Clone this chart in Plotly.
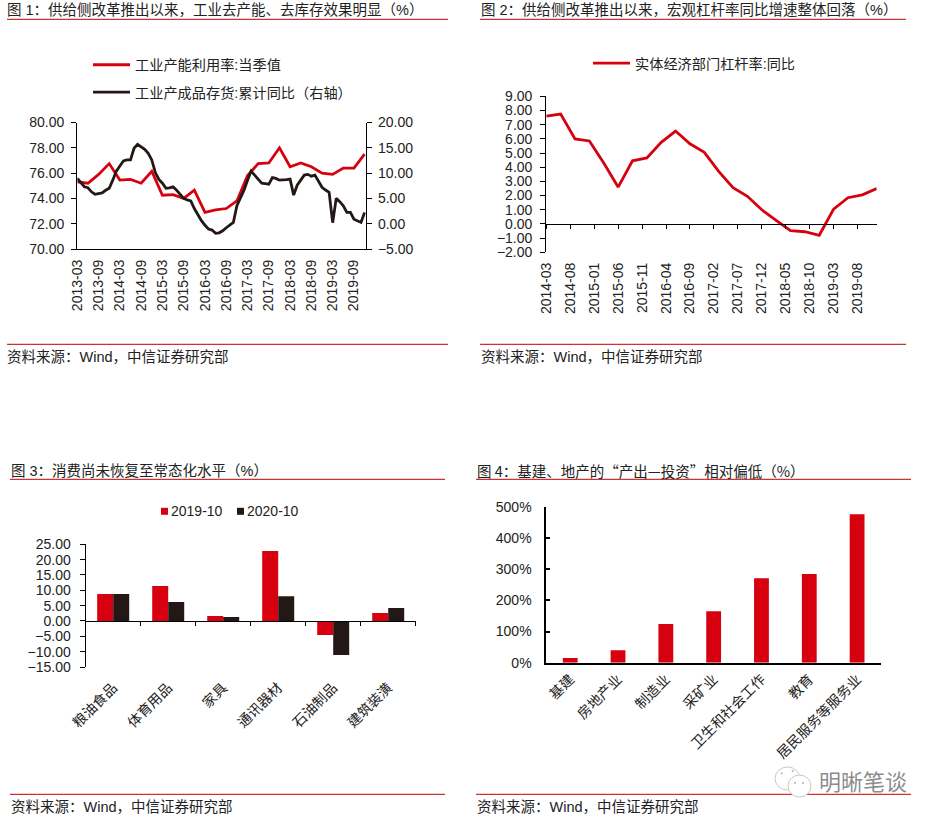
import plotly.graph_objects as go

W, H = 940, 824
RED = '#D7000F'
BLACK = '#231815'
RULE = '#C00000'
FONT = 'Liberation Sans, Noto Sans CJK SC, sans-serif'
FONT_CJK = 'Noto Sans CJK SC, sans-serif'

# chart 1
months1 = ['%d-%02d' % (y, m) for y in range(2013, 2020) for m in range(1, 13)][2:]
quarters1 = [m for m in months1 if int(m[-2:]) % 3 == 0]
ticks1 = ['2013-03', '2013-09', '2014-03', '2014-09', '2015-03', '2015-09', '2016-03', '2016-09',
          '2017-03', '2017-09', '2018-03', '2018-09', '2019-03', '2019-09']
capacity = [75.3, 75.2, 75.9, 76.75, 75.45, 75.5, 75.2, 76.15,
            74.25, 74.3, 74.0, 74.65, 72.9, 73.1, 73.2, 73.8,
            75.8, 76.75, 76.8, 78.0, 76.5, 76.8, 76.5, 76.0,
            75.9, 76.4, 76.4, 77.5]
inventory = [8.95, 8.0, 7.3, 7.1, 6.3, 5.8, 5.9, 6.1, 6.6, 7.0, 8.6, 10.4,
             11.4, 12.4, 12.6, 12.6, 14.9, 15.7, 15.2, 14.7, 13.9, 12.6, 10.1, 8.75,
             8.0, 7.0, 7.1, 7.3, 6.6, 5.9, 5.0, 4.7, 4.5, 3.0, 1.7, 0.6,
             -0.3, -1.05, -1.25, -1.9, -1.8, -1.4, -0.8, -0.25, 0.25, 3.55, 5.0, 6.6,
             8.6, 10.4, 9.6, 8.75, 8.0, 7.9, 7.8, 9.1, 8.95, 8.6, 8.6, 8.7,
             8.8, 5.65, 7.6, 8.6, 9.6, 9.75, 9.4, 9.6, 8.5, 7.2, 6.65, 6.2,
             0.2, 5.0, 4.35, 3.55, 2.25, 2.25, 0.9, 0.5, 0.25, 2.2]

# chart 2
months2 = ['%d-%02d' % (y, m) for y in range(2014, 2020) for m in range(1, 13)][2:]
quarters2 = [m for m in months2 if int(m[-2:]) % 3 == 0]
ticks2 = ['2014-03', '2014-08', '2015-01', '2015-06', '2015-11', '2016-04', '2016-09',
          '2017-02', '2017-07', '2017-12', '2018-05', '2018-10', '2019-03', '2019-08']
leverage = [7.6, 7.75, 6.0, 5.85, 4.3, 2.6, 4.45, 4.65, 5.75, 6.55, 5.65, 5.05,
            3.7, 2.55, 1.95, 1.0, 0.25, -0.47, -0.55, -0.8, 1.05, 1.85, 2.05, 2.5]

# chart 3
goods = ['粮油食品', '体育用品', '家具', '通讯器材', '石油制品', '建筑装潢']
sales_2019 = [8.8, 11.4, 1.6, 22.8, -4.6, 2.6]
sales_2020 = [8.8, 6.2, 1.3, 8.1, -11.1, 4.2]

# chart 4
sectors = ['基建', '房地产业', '制造业', '采矿业', '卫生和社会工作', '教育', '居民服务等服务业']
ratio = [15, 40, 124, 165, 271, 284, 476]


def px_x(x):
    return x / W


def px_y(y):
    return 1 - y / H


def zero_pos(dom, lo, hi):
    return dom[0] + (0 - lo) / (hi - lo) * (dom[1] - dom[0])


def note(text, x, y, size=14.5, color='#222222', family=FONT):
    # annotations carry about 2px of padding on the left
    return dict(text=text, x=px_x(x - 2), y=px_y(y), xref='paper', yref='paper', showarrow=False,
                xanchor='left', yanchor='middle', font=dict(family=family, size=size, color=color))


def rule(x0, x1, y):
    return dict(type='line', xref='paper', yref='paper', x0=px_x(x0), x1=px_x(x1), y0=px_y(y), y1=px_y(y),
                line=dict(color=RULE, width=1))


def legend_at(x, y):
    return dict(x=px_x(x), y=px_y(y), xanchor='left', yanchor='middle', bgcolor='rgba(0,0,0,0)',
                itemwidth=37, font=dict(family=FONT, size=14.2, color='#222222'), itemclick=False)


fig = go.Figure()
line1 = dict(color=RED, width=2.8)
line2 = dict(color=BLACK, width=2.8)
fig.add_trace(go.Scatter(x=quarters1, y=capacity, mode='lines', name='工业产能利用率:当季值', line=line1,
                         xaxis='x', yaxis='y', legend='legend'))
fig.add_trace(go.Scatter(x=months1, y=inventory, mode='lines', name='工业产成品存货:累计同比（右轴）', line=line2,
                         xaxis='x', yaxis='y2', legend='legend2'))
fig.add_trace(go.Scatter(x=quarters2, y=leverage, mode='lines', name='实体经济部门杠杆率:同比', line=line1,
                         xaxis='x2', yaxis='y3', legend='legend3'))
fig.add_trace(go.Bar(x=goods, y=sales_2019, name='2019-10', marker=dict(color=RED, line_width=0),
                     xaxis='x3', yaxis='y4', showlegend=False))
fig.add_trace(go.Bar(x=goods, y=sales_2020, name='2020-10', marker=dict(color=BLACK, line_width=0),
                     xaxis='x3', yaxis='y4', showlegend=False))
fig.add_trace(go.Bar(x=sectors, y=ratio, name='ratio', marker=dict(color=RED, line_width=0),
                     width=0.31, xaxis='x4', yaxis='y5', showlegend=False))

tickfont = dict(family=FONT, size=14, color='#222222')
axis = dict(showgrid=False, zeroline=False, showline=True, linecolor='black', linewidth=1.3,
            tickcolor='black', tickwidth=1, tickfont=tickfont)

dom_y2 = [px_y(252.3), px_y(96.3)]
dom_y3 = [px_y(667), px_y(544.3)]

fig.update_layout(
    width=W, height=H, margin=dict(l=0, r=0, t=0, b=0), template='none',
    paper_bgcolor='white', plot_bgcolor='rgba(0,0,0,0)', showlegend=True, barmode='group',
    bargap=0.418, bargroupgap=0,
    xaxis=dict(axis, type='category', categoryorder='array', categoryarray=months1, tickmode='array',
               tickvals=ticks1, tickangle=-90, ticks='', range=[0, 81.4], anchor='y',
               domain=[px_x(77.3), px_x(366)], ticklabelstandoff=4),
    yaxis=dict(axis, range=[70, 80], dtick=2, tickformat='.2f', ticks='outside', ticklen=5, anchor='x',
               domain=[px_y(249), px_y(122.5)], ticklabelstandoff=4),
    yaxis2=dict(axis, range=[-5, 20], dtick=5, tickformat='.2f', ticks='outside', ticklen=5, anchor='x',
                overlaying='y', side='right', ticklabelstandoff=3),
    xaxis2=dict(axis, type='category', categoryorder='array', categoryarray=months2, tickmode='array',
                tickvals=ticks2, tickangle=-90, ticks='outside', ticklen=4, range=[0, 69],
                anchor='free', position=zero_pos(dom_y2, -2, 9),
                domain=[px_x(546.3), px_x(876.7)], ticklabelstandoff=28),
    yaxis3=dict(axis, range=[-2, 9], dtick=1, tickformat='.2f', ticks='outside', ticklen=5, anchor='x2',
                domain=dom_y2, ticklabelstandoff=5),
    xaxis3=dict(axis, type='category', categoryorder='array', categoryarray=goods, tickangle=-45,
                ticks='outside', ticklen=4, tickson='boundaries', range=[-0.5, 5.5],
                anchor='free', position=zero_pos(dom_y3, -15, 25),
                domain=[px_x(85.7), px_x(415.7)], ticklabelstandoff=52),
    yaxis4=dict(axis, range=[-15, 25], dtick=5, tickformat='.2f', ticks='outside', ticklen=5, anchor='x3',
                domain=dom_y3, ticklabelstandoff=6),
    xaxis4=dict(axis, type='category', categoryorder='array', categoryarray=sectors, tickangle=-45,
                ticks='', range=[-0.5, 6.5], anchor='y5', linewidth=1.8,
                domain=[px_x(546.3), px_x(881)], ticklabelstandoff=1),
    yaxis5=dict(axis, range=[0, 500], dtick=100, ticksuffix='%', ticks='inside', ticklen=4, anchor='x4',
                linewidth=1.8, tickwidth=1.5, domain=[px_y(662.7), px_y(506.7)], ticklabelstandoff=10),
    legend=legend_at(88, 65),
    legend2=legend_at(88, 92.3),
    legend3=legend_at(588, 63.3),
)

texts = [
    note('图 1：供给侧改革推出以来，工业去产能、去库存效果明显（%）', 7, 10),
    note('资料来源：Wind，中信证券研究部', 7, 357),
    note('图 2：供给侧改革推出以来，宏观杠杆率同比增速整体回落（%）', 480.5, 10),
    note('资料来源：Wind，中信证券研究部', 480.5, 357),
    note('图 3：消费尚未恢复至常态化水平（%）', 10.5, 470),
    note('资料来源：Wind，中信证券研究部', 10.5, 807),
    note('图 4：基建、地产的“产出—投资”相对偏低（%）', 476.5, 470, family=FONT_CJK),
    note('资料来源：Wind，中信证券研究部', 476.5, 807),
    note('2019-10', 170.5, 511.3, size=14),
    note('2020-10', 247, 511.3, size=14),
    note('明晰笔谈', 819, 782, size=22, color='#8c8c8c'),
]
shapes = [rule(7, 448, 19.3), rule(7, 448, 344.3), rule(480, 906, 19.3), rule(480, 906, 344.3),
          rule(10, 445, 479.3), rule(10, 445, 794.3), rule(476, 911, 479.3), rule(476, 911, 794.3)]
# legend swatches of chart 3
for x0, color in [(161, RED), (237, BLACK)]:
    shapes.append(dict(type='rect', xref='paper', yref='paper', x0=px_x(x0), x1=px_x(x0 + 7),
                       y0=px_y(514.8), y1=px_y(507.8), fillcolor=color, line_width=0))
# wechat bubbles next to the watermark
for x0, x1, y0, y1 in [(775, 800, 767, 790), (788, 811, 775, 797)]:
    shapes.append(dict(type='circle', xref='paper', yref='paper', x0=px_x(x0), x1=px_x(x1),
                       y0=px_y(y1), y1=px_y(y0), fillcolor='white', line=dict(color='#c8c8c8', width=1)))
for cx, cy in [(781.7, 773.3), (792.7, 771), (795, 783), (803, 783)]:
    shapes.append(dict(type='circle', xref='paper', yref='paper', x0=px_x(cx - 1), x1=px_x(cx + 1),
                       y0=px_y(cy + 1), y1=px_y(cy - 1), fillcolor='#b0b0b0', line_width=0))
fig.update_layout(annotations=texts, shapes=shapes)

# the default body margin would push the page 8px off the window
fig.write_html("out.html", post_script="document.body.style.margin='0';",
               config={'displayModeBar': False})
